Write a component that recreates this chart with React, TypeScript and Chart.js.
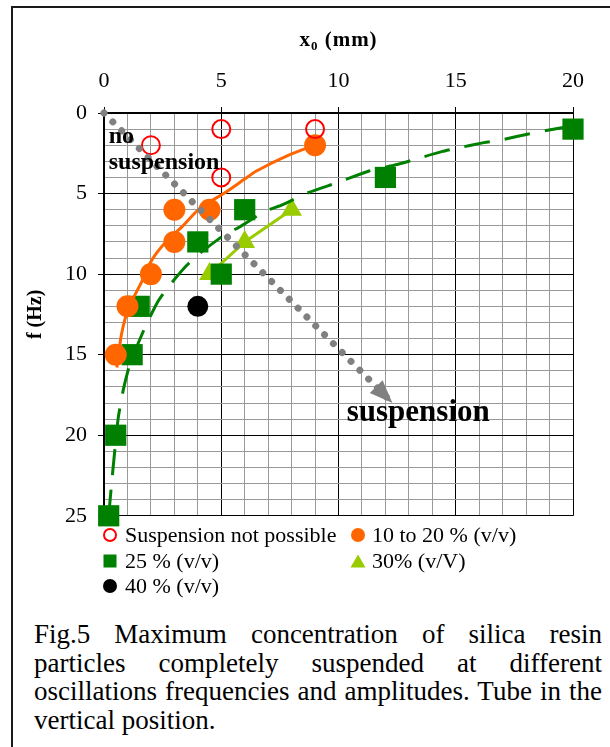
import React, { useEffect, useRef } from 'react';
import { Chart, registerables } from 'chart.js';

Chart.register(...registerables);

// ---- data ----
const xTickLabels = [0, 5, 10, 15, 20];
const yTickLabels = [0, 5, 10, 15, 20, 25];

const notPossibleX = [2, 5, 5, 9];
const notPossibleF = [2, 1, 4, 1];

const c1020X = [9, 4.5, 3, 3, 2, 1, 0.5];
const c1020F = [2, 6, 6, 8, 10, 12, 15];

const c25X = [20, 12, 6, 4, 5, 1.5, 1.2, 0.5, 0.2];
const c25F = [1, 4, 6, 8, 10, 12, 15, 20, 25];

const c30X = [8, 6, 4.5];
const c30F = [6, 8, 10];

const c40X = [4];
const c40F = [12];

// trend lines
const trend1020X = [0.55, 0.75, 1.05, 1.6, 2.05, 2.7, 3.3, 4.1, 5.1, 6.0, 6.5, 7.9, 9];
const trend1020F = [15.8, 13.7, 12.1, 10.5, 9.1, 7.9, 7.1, 5.9, 5.0, 4.1, 3.6, 2.6, 2];

const trend25X = [0.2, 0.35, 0.6, 0.82, 1.1, 1.75, 2.3, 2.74, 3.5, 4.1, 5.1, 5.8, 6.87, 7.6, 8.7, 10, 11.3, 12.5, 13.3, 14.4, 15.1, 16.2, 17, 18.1, 18.8, 20];
const trend25F = [25, 22.6, 19, 17.2, 15.6, 13.3, 11.7, 10.8, 9.5, 8.7, 7.6, 7.06, 6.1, 5.7, 4.95, 4.3, 3.6, 3.2, 2.86, 2.4, 2.17, 1.84, 1.65, 1.3, 1.1, 0.8];

const arrowX = [0, 12.3];
const arrowF = [0, 18];

const seriesLabels = ['Suspension not possible', '10 to 20 % (v/v)', '25 % (v/v)', '30% (v/V)', '40 % (v/v)'];

const SERIF = "'Liberation Serif', 'Times New Roman', serif";
const ORANGE = '#FF6600';
const GREEN = '#008000';
const LIME = '#99CC00';
const RED = '#FF0000';
const GRAY = '#808080';

const pts = (xs: number[], ys: number[]) => xs.map((x, i) => ({ x, y: ys[i] }));

const annotationPlugin = {
  id: 'annotations',
  afterDatasetsDraw(chart: any) {
    const { ctx, scales } = chart;
    const x = scales.x;
    const y = scales.y;
    // arrow head on gray dotted line
    const meta = chart.getDatasetMeta(0);
    const d = meta.data;
    const p1 = d[d.length - 2];
    const p2 = d[d.length - 1];
    const ang = Math.atan2(p2.y - p1.y, p2.x - p1.x);
    ctx.save();
    ctx.fillStyle = GRAY;
    ctx.translate(p2.x, p2.y);
    ctx.rotate(ang);
    ctx.beginPath();
    ctx.moveTo(0, 0);
    ctx.lineTo(-23, -9);
    ctx.lineTo(-23, 9);
    ctx.closePath();
    ctx.fill();
    ctx.restore();

    ctx.save();
    ctx.fillStyle = '#000';
    ctx.textBaseline = 'alphabetic';
    ctx.textAlign = 'left';
    ctx.font = `bold 24px ${SERIF}`;
    ctx.fillText('no', x.getPixelForValue(0.2), y.getPixelForValue(1.88));
    ctx.fillText('suspension', x.getPixelForValue(0.2), y.getPixelForValue(3.5));
    ctx.font = `bold 31px ${SERIF}`;
    ctx.fillText('suspension', x.getPixelForValue(10.35), y.getPixelForValue(19.1));
    ctx.restore();
  },
  afterDraw(chart: any) {
    const { ctx, chartArea } = chart;
    const cx = (chartArea.left + chartArea.right) / 2;
    const base = 36;
    ctx.save();
    ctx.fillStyle = '#000';
    ctx.textBaseline = 'alphabetic';
    ctx.textAlign = 'left';
    const big = `bold 21px ${SERIF}`;
    const small = `bold 13px ${SERIF}`;
    ctx.font = big;
    (ctx as any).letterSpacing = '1px';
    const wx = ctx.measureText('x').width;
    const wr = ctx.measureText(' (mm)').width;
    ctx.font = small;
    const w0 = ctx.measureText('0').width;
    const total = wx + w0 + wr;
    let sx = cx - total / 2;
    ctx.font = big;
    ctx.fillText('x', sx, base);
    sx += wx;
    ctx.font = small;
    ctx.fillText('0', sx, base + 4);
    sx += w0;
    ctx.font = big;
    ctx.fillText(' (mm)', sx, base);
    ctx.restore();
  },
};

function LegendMarker({ kind }: { kind: number }) {
  const s = 16;
  let shape: any = null;
  if (kind === 0) shape = <circle cx={8} cy={8} r={6} fill="none" stroke={RED} strokeWidth={2} />;
  if (kind === 1) shape = <circle cx={8} cy={8} r={7} fill={ORANGE} />;
  if (kind === 2) shape = <rect x={1.5} y={1.5} width={13} height={13} fill={GREEN} />;
  if (kind === 3) shape = <polygon points="8,1.5 15.5,14.5 0.5,14.5" fill={LIME} />;
  if (kind === 4) shape = <circle cx={8} cy={8} r={7} fill="#000" />;
  return (
    <svg width={s} height={s} style={{ display: 'block' }}>
      {shape}
    </svg>
  );
}

const legendPos = [
  { mx: 110, tx: 125, cy: 535 },
  { mx: 358, tx: 372, cy: 535 },
  { mx: 110, tx: 125, cy: 561 },
  { mx: 358, tx: 372, cy: 561 },
  { mx: 110, tx: 125, cy: 586 },
];

export default function App() {
  const ref = useRef<HTMLCanvasElement | null>(null);

  useEffect(() => {
    if (!ref.current) return;
    const majorX = (v: number) => xTickLabels.includes(v);
    const majorY = (v: number) => yTickLabels.includes(v);
    const chart = new Chart(ref.current, {
      type: 'scatter',
      data: {
        datasets: [
          {
            label: 'arrow',
            data: pts(arrowX, arrowF),
            showLine: true,
            borderColor: GRAY,
            borderWidth: 7,
            borderDash: [0.01, 12.5],
            borderCapStyle: 'round',
            pointRadius: 0,
            clip: false,
          },
          {
            label: seriesLabels[0],
            data: pts(notPossibleX, notPossibleF),
            pointStyle: 'circle',
            pointRadius: 9,
            borderColor: RED,
            backgroundColor: 'rgba(0,0,0,0)',
            pointBorderWidth: 2,
            clip: false,
          },
          {
            label: 'trend 10-20',
            data: pts(trend1020X, trend1020F),
            showLine: true,
            borderColor: ORANGE,
            borderWidth: 3,
            tension: 0.3,
            pointRadius: 0,
          },
          {
            label: seriesLabels[1],
            data: pts(c1020X, c1020F),
            pointStyle: 'circle',
            pointRadius: 11,
            backgroundColor: ORANGE,
            borderColor: ORANGE,
            pointBorderWidth: 0,
            clip: false,
          },
          {
            label: 'trend 25',
            data: pts(trend25X, trend25F),
            showLine: true,
            borderColor: GREEN,
            borderWidth: 3,
            borderDash: [26, 15],
            tension: 0.2,
            pointRadius: 0,
            clip: false,
          },
          {
            label: seriesLabels[2],
            data: pts(c25X, c25F),
            pointStyle: 'rect',
            pointRadius: 15,
            backgroundColor: GREEN,
            borderColor: GREEN,
            pointBorderWidth: 0,
            clip: false,
          },
          {
            label: seriesLabels[3],
            data: pts(c30X, c30F),
            showLine: true,
            borderColor: LIME,
            borderWidth: 3,
            pointStyle: 'triangle',
            pointRadius: 12,
            backgroundColor: LIME,
            pointBorderWidth: 0,
            clip: false,
          },
          {
            label: seriesLabels[4],
            data: pts(c40X, c40F),
            pointStyle: 'circle',
            pointRadius: 10.5,
            backgroundColor: '#000',
            borderColor: '#000',
            pointBorderWidth: 0,
            clip: false,
          },
        ],
      },
      options: {
        responsive: false,
        animation: false,
        events: [],
        layout: { padding: { left: 12, right: 37, top: 0, bottom: 5 } },
        plugins: { legend: { display: false }, tooltip: { enabled: false } },
        scales: {
          x: {
            type: 'linear',
            position: 'top',
            min: 0,
            max: 20,
            afterFit: (s: any) => {
              s.height = 103;
            },
            border: { display: true, color: '#000', width: 2 },
            grid: {
              color: (c: any) => (majorX(c.tick.value) ? '#000' : '#999999'),
              tickColor: (c: any) => (majorX(c.tick.value) ? '#000' : 'rgba(0,0,0,0)'),
              lineWidth: 1,
              tickLength: 6,
            },
            ticks: {
              stepSize: 1,
              autoSkip: false,
              maxRotation: 0,
              padding: 13,
              color: '#000',
              font: { family: SERIF, size: 22 },
              callback: (v: any) => (majorX(Number(v)) ? String(v) : ''),
            },
          },
          y: {
            type: 'linear',
            reverse: true,
            min: 0,
            max: 25,
            afterFit: (s: any) => {
              s.width = 80;
            },
            border: { display: true, color: '#000', width: 2 },
            grid: {
              color: (c: any) => (majorY(c.tick.value) ? '#000' : '#999999'),
              tickColor: (c: any) => (majorY(c.tick.value) ? '#000' : 'rgba(0,0,0,0)'),
              lineWidth: 1,
              tickLength: 6,
            },
            title: {
              display: true,
              text: 'f (Hz)',
              color: '#000',
              font: { family: SERIF, size: 20, weight: 'bold' },
              padding: { top: 0, bottom: 0 },
            },
            ticks: {
              stepSize: 1,
              autoSkip: false,
              padding: 11,
              color: '#000',
              font: { family: SERIF, size: 22 },
              callback: (v: any) => (majorY(Number(v)) ? String(v) : ''),
            },
          },
        },
      } as any,
      plugins: [annotationPlugin],
    });
    return () => chart.destroy();
  }, []);

  return (
    <div
      style={{
        position: 'absolute',
        left: 0,
        top: 0,
        width: 610,
        height: 747,
        overflow: 'hidden',
        background: '#fff',
        fontFamily: SERIF,
        color: '#000',
      }}
    >
      <div
        style={{
          position: 'absolute',
          left: 11,
          top: 6,
          width: 610,
          height: 760,
          borderTop: '2px solid #1a1a1a',
          borderLeft: '2px solid #1a1a1a',
        }}
      />
      <canvas
        ref={ref}
        width={598}
        height={530}
        style={{ position: 'absolute', left: 12, top: 10, width: 598, height: 530 }}
      />
      {seriesLabels.map((lab, i) => (
        <React.Fragment key={lab}>
          <div style={{ position: 'absolute', left: legendPos[i].mx - 8, top: legendPos[i].cy - 8 }}>
            <LegendMarker kind={i} />
          </div>
          <div
            style={{
              position: 'absolute',
              left: legendPos[i].tx,
              top: legendPos[i].cy - 13,
              fontSize: 22,
              lineHeight: '26px',
              whiteSpace: 'nowrap',
            }}
          >
            {lab}
          </div>
        </React.Fragment>
      ))}
      <div
        style={{
          position: 'absolute',
          left: 34,
          top: 620,
          width: 568,
          fontSize: 27,
          lineHeight: '28.5px',
          textAlign: 'justify',
        }}
      >
        Fig.5 Maximum concentration of silica resin particles completely suspended at different oscillations
        frequencies and amplitudes. Tube in the vertical position.
      </div>
    </div>
  );
}
